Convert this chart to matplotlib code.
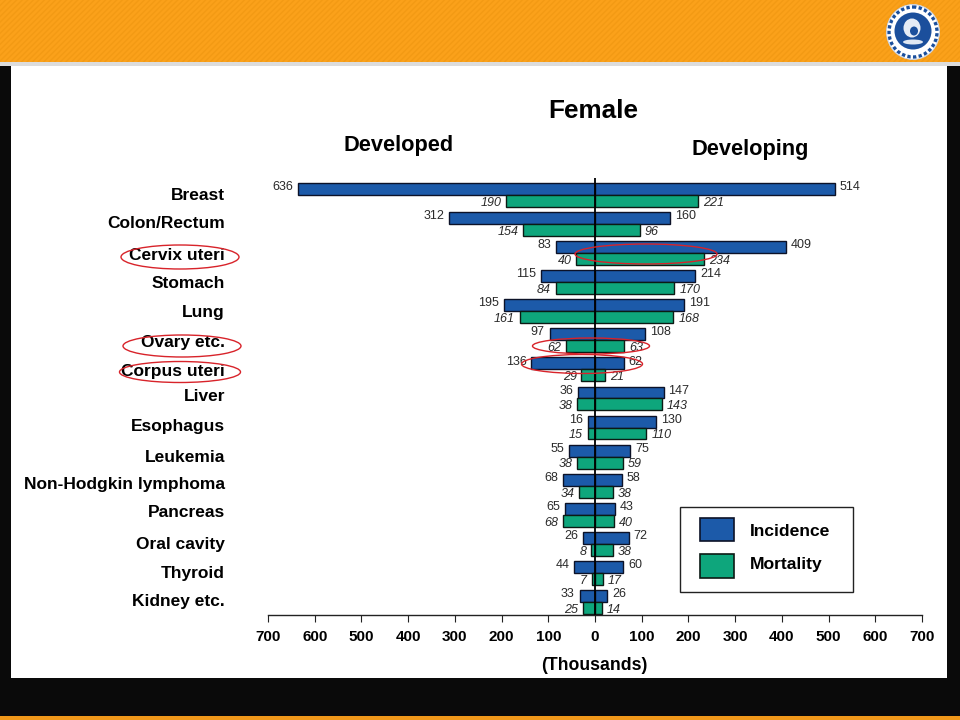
# Female cancer incidence / mortality, developed vs developing
import matplotlib
matplotlib.use('Agg')
import matplotlib.pyplot as plt
from matplotlib.patches import Rectangle, Ellipse, Circle

plt.rcParams['font.family'] = ['Liberation Sans', 'DejaVu Sans']

sites = ['Breast', 'Colon/Rectum', 'Cervix uteri', 'Stomach', 'Lung', 'Ovary etc.',
         'Corpus uteri', 'Liver', 'Esophagus', 'Leukemia', 'Non-Hodgkin lymphoma',
         'Pancreas', 'Oral cavity', 'Thyroid', 'Kidney etc.']
inc_developed = [636, 312, 83, 115, 195, 97, 136, 36, 16, 55, 68, 65, 26, 44, 33]
inc_developing = [514, 160, 409, 214, 191, 108, 62, 147, 130, 75, 58, 43, 72, 60, 26]
mort_developed = [190, 154, 40, 84, 161, 62, 29, 38, 15, 38, 34, 68, 8, 7, 25]
mort_developing = [221, 96, 234, 170, 168, 63, 21, 143, 110, 59, 38, 40, 38, 17, 14]
x_ticks = [-700, -600, -500, -400, -300, -200, -100, 0, 100, 200, 300, 400, 500, 600, 700]

BLUE = '#1c5aa9'
GREEN = '#0ea67c'
TEXT = '#000000'
NUM = '#2a2a2a'

fig = plt.figure(figsize=(9.6, 7.2), dpi=100, facecolor='#0a0a0a')

# page furniture drawn in pixel coordinates
bg = fig.add_axes([0, 0, 1, 1])
bg.set_xlim(0, 960)
bg.set_ylim(720, 0)
bg.axis('off')
bg.add_patch(Rectangle((0, 0), 960, 62, fc='#fba11a', ec='#f39a14', lw=0, hatch='//////'))
bg.add_patch(Rectangle((0, 62), 960, 4, fc='#dcdcdc', lw=0))
bg.add_patch(Rectangle((11, 66), 936, 612, fc='white', lw=0))
bg.add_patch(Rectangle((0, 716), 960, 4, fc='#f0981a', lw=0))

# hospital badge
bg.add_patch(Ellipse((913, 32), 53, 55, fc='white', ec='#c9d4e6', lw=0.6))
bg.add_patch(Ellipse((913, 32), 48, 50, fc='none', ec='#1b4f9c', lw=2.4, ls=(0, (1, 0.7))))
bg.add_patch(Circle((913, 31), 18.5, fc='#1b4f9c', lw=0))
bg.add_patch(Ellipse((912, 28), 17, 19, fc='#e6ecf5', lw=0))
bg.add_patch(Ellipse((914, 31), 8, 9, fc='#1b4f9c', lw=0))
bg.add_patch(Ellipse((913, 42), 20, 5, fc='#dfe7f2', lw=0))

# chart axes: x 268..922 px, y 178..615 px
ax = fig.add_axes([268 / 960, 1 - 615 / 720, 654 / 960, 437 / 720])
ax.patch.set_alpha(0)
rows = list(range(len(sites)))
bar_h = 0.41
for side, inc, mort in [(-1, inc_developed, mort_developed), (1, inc_developing, mort_developing)]:
    ax.barh(rows, [side * v for v in inc], height=-bar_h, align='edge', color=BLUE,
            edgecolor='#0c1228', linewidth=1)
    ax.barh(rows, [side * v for v in mort], height=bar_h, align='edge', color=GREEN,
            edgecolor='#0c1a14', linewidth=1)
    ha = 'left' if side > 0 else 'right'
    for r, v in zip(rows, inc):
        ax.annotate(str(v), (side * v, r - 0.27), xytext=(side * 3.5, 0), textcoords='offset points',
                    ha=ha, va='center', fontsize=9, color=NUM)
    for r, v in zip(rows, mort):
        ax.annotate(str(v), (side * v, r + 0.27), xytext=(side * 3.5, 0), textcoords='offset points',
                    ha=ha, va='center', fontsize=9, color=NUM, style='italic')

ax.axvline(0, color='black', lw=1.3, zorder=5)
ax.set_xlim(-700, 700)
ax.set_ylim(14.45, -0.585)
ax.set_yticks(rows)
ax.set_yticklabels([])
ax.tick_params(axis='y', length=0)
ax.set_xticks(x_ticks)
ax.set_xticklabels([str(abs(v)) for v in x_ticks], fontsize=11, fontweight='bold', color=TEXT)
ax.tick_params(axis='x', length=5, width=0.8, pad=6, color='#222222')
for s in ['top', 'left', 'right']:
    ax.spines[s].set_visible(False)
ax.spines['bottom'].set_linewidth(1.0)
ax.spines['bottom'].set_color('#222222')

# site names sit a little unevenly in the original
label_nudge = [0, -1, 2, 1, 1, 2, 2, -2, -1, 1, -1, -2, 1, 1, 0]
for r, name, dy in zip(rows, sites, label_nudge):
    ax.annotate(name, (0, r), xycoords=ax.get_yaxis_transform(), xytext=(-31, -dy * 0.72),
                textcoords='offset points', ha='right', va='center',
                fontsize=12.55, fontweight='bold', color=TEXT, annotation_clip=False)

# titles
bg.text(593, 111, 'Female', fontsize=18.8, fontweight='bold', ha='center', va='center', color=TEXT)
bg.text(399, 145, 'Developed', fontsize=15.7, fontweight='bold', ha='center', va='center', color=TEXT)
bg.text(750, 150, 'Developing', fontsize=15.7, fontweight='bold', ha='center', va='center', color=TEXT)
bg.text(594, 665, '(Thousands)', fontsize=12.7, fontweight='bold', ha='center', va='center', color=TEXT)

# key
top = fig.add_axes([0, 0, 1, 1])
top.set_xlim(0, 960)
top.set_ylim(720, 0)
top.axis('off')
top.add_patch(Rectangle((680, 507), 173, 85, fc='white', ec='#222222', lw=1))
top.add_patch(Rectangle((700, 518), 34, 23, fc=BLUE, ec='#0c1228', lw=1.2))
top.add_patch(Rectangle((700, 554), 34, 24, fc=GREEN, ec='#0c1a14', lw=1.2))
top.text(750, 532, 'Incidence', fontsize=12.6, fontweight='bold', va='center', color=TEXT)
top.text(750, 565, 'Mortality', fontsize=12.6, fontweight='bold', va='center', color=TEXT)

# red rings
rings = [(180, 257, 118, 24), (646, 254, 142, 20), (182, 346, 118, 22), (591, 346, 117, 16),
         (180, 372, 121, 21), (582, 364, 121, 19)]
for cx, cy, w, h in rings:
    top.add_patch(Ellipse((cx, cy), w, h, fc='none', ec='#d8232a', lw=1))

fig.savefig('out.png', dpi=100, facecolor=fig.get_facecolor())
